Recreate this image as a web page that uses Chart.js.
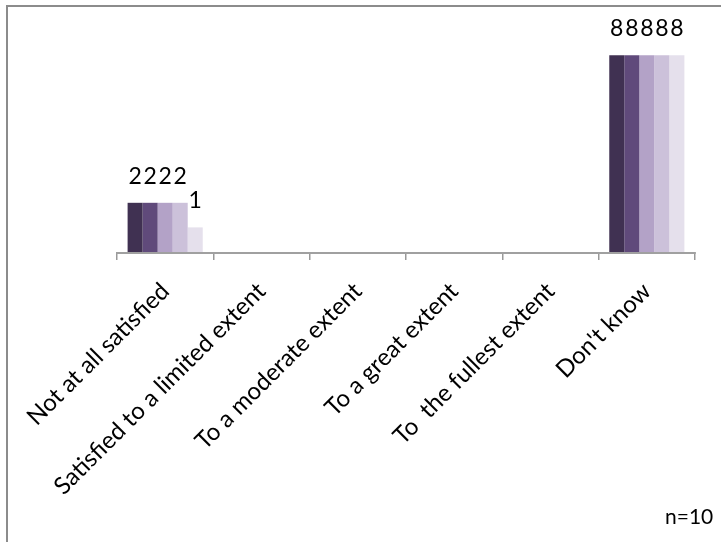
<!DOCTYPE html>
<html lang="en">
<head>
  <meta charset="UTF-8">
  <title>Satisfaction</title>
  <script src="https://cdn.jsdelivr.net/npm/chart.js"></script>
  <style>
    body { margin: 0; background: #fff; }
    .moldura { position: absolute; left: 6px; top: 5px; width: 900px; height: 900px;
               border-left: 2px solid #8c8c8c; border-top: 2px solid #8c8c8c; }
    .grafico { position: absolute; left: 0; top: 0; width: 721px; height: 542px; }
    .amostra { position: absolute; left: 665px; top: 503px; font: 21px Lato, sans-serif; color: #000; }
  </style>
</head>
<body>
  <div class="moldura"></div>
  <div class="grafico"><canvas id="graficoSatisfacao" width="721" height="542"></canvas></div>
  <div class="amostra">n=10</div>
<script>

// categorias do eixo x
const categorias = ['Not at all satisfied', 'Satisfied to a limited extent', 'To a moderate extent',
  'To a great extent', 'To  the fullest extent', "Don't know"];

// valores de cada serie (5 series)
const serie1 = [2, 0, 0, 0, 0, 8];
const serie2 = [2, 0, 0, 0, 0, 8];
const serie3 = [2, 0, 0, 0, 0, 8];
const serie4 = [2, 0, 0, 0, 0, 8];
const serie5 = [1, 0, 0, 0, 0, 8];

const cores = ['#403152', '#604A7B', '#B3A2C7', '#CCC1DA', '#E5E0EC'];

// linha do eixo x entre o primeiro e o ultimo traco
const linhaEixo = {
  id: 'linhaEixo',
  afterDraw(chart) {
    const ctx = chart.ctx;
    const x = chart.scales.x;
    const meio = (x.getPixelForValue(1) - x.getPixelForValue(0)) / 2;
    const ini = x.getPixelForValue(0) - meio;
    const fim = x.getPixelForValue(categorias.length - 1) + meio;
    ctx.save();
    ctx.strokeStyle = '#a0a0a0';
    ctx.lineWidth = 2;
    ctx.beginPath();
    ctx.moveTo(ini - 0.75, chart.chartArea.bottom + 1);
    ctx.lineTo(fim + 0.75, chart.chartArea.bottom + 1);
    ctx.stroke();
    ctx.restore();
  }
};

// rotulos de valor acima das barras (zeros nao aparecem)
const rotulosValor = {
  id: 'rotulosValor',
  afterDatasetsDraw(chart) {
    const ctx = chart.ctx;
    ctx.save();
    ctx.font = '23px Lato, sans-serif';
    ctx.fillStyle = '#000';
    ctx.textAlign = 'center';
    ctx.textBaseline = 'alphabetic';
    chart.data.datasets.forEach((ds, i) => {
      chart.getDatasetMeta(i).data.forEach((barra, j) => {
        if (ds.data[j] > 0) {
          ctx.fillText(ds.data[j], barra.x, barra.y - 19);
        }
      });
    });
    ctx.restore();
  }
};

const dados = {
  labels: categorias,
  datasets: [serie1, serie2, serie3, serie4, serie5].map((s, i) => ({
    label: 'Serie ' + (i + 1),
    data: s,
    backgroundColor: cores[i],
    borderWidth: 0,
    barPercentage: 1,
    categoryPercentage: 0.78
  }))
};

const config = {
  type: 'bar',
  data: dados,
  plugins: [rotulosValor, linhaEixo],
  options: {
    responsive: false,
    animation: false,
    layout: { padding: { left: 117, right: 26, top: 6, bottom: 0 } },
    plugins: {
      legend: { display: false },
      tooltip: { enabled: false }
    },
    scales: {
      x: {
        grid: { display: true, drawOnChartArea: false, tickLength: 8, color: '#999', lineWidth: 1.5, offset: true },
        border: { display: false },
        ticks: {
          minRotation: 45,
          maxRotation: 45,
          autoSkip: false,
          padding: 17,
          color: '#000',
          font: { family: 'Lato', size: 24 }
        },
        afterFit(scale) { scale.height = 290; }
      },
      y: {
        display: false,
        min: 0,
        max: 10
      }
    }
  }
};

let meuGrafico = new Chart(document.getElementById('graficoSatisfacao'), config);
</script>
</body>
</html>
